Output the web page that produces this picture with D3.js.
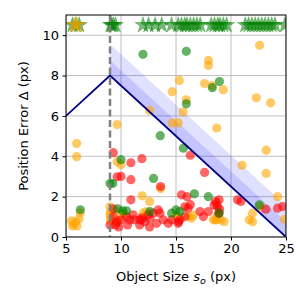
<!DOCTYPE html>
<html><head><meta charset="utf-8">
<script src="https://cdn.jsdelivr.net/npm/d3@7"></script>
<style>body{margin:0;background:#fff}svg{display:block}text{font-family:"DejaVu Sans",sans-serif}</style>
</head><body>
<script>
const xTicks = [5, 10, 15, 20, 25];
const yTicks = [0, 2, 4, 6, 8, 10];
const boundX = [5, 9, 25];
const boundY = [6, 8, 0];
const cutoffX = 9;
const bandInner = 0.75;
const bandOuter = 1.55;
const orangePts = [[5.5,0.8],[5.7,0.65],[5.9,0.75],[6.0,0.55],[5.6,0.55],[6.2,0.9],[6.3,1.2],[5.97,4.63],[5.97,3.98],
[9.65,5.57],[9.65,3.73],[10.0,3.58],[9.0,1.5],[9.05,1.25],[9.0,1.1],[9.05,0.95],[9.05,0.8],[9.95,1.15],[10.25,1.15],[9.75,0.8],
[11.93,2.04],[12.6,1.76],[12.0,1.18],[12.3,1.26],[13.6,2.4],[12.6,6.27],[14.66,5.65],[15.2,5.65],[14.66,7.2],[15.3,7.76],[15.94,6.8],[15.65,6.2],[17.95,8.75],[17.95,8.5],[17.6,7.6],[18.3,7.5],[19.3,7.3],[22.6,9.5],[22.3,6.9],[23.6,6.65],[18.7,5.4],[23.2,4.3],[21.0,3.55],[23.2,3.15],[24.24,2.0],
[16.12,1.01],[16.42,0.93],[16.58,1.09],[15.05,1.01],[18.4,0.85],[18.7,0.85],[18.6,0.85],[19.07,0.85],[19.38,0.76],[18.77,1.09],[21.96,1.18],[21.66,0.85],[21.96,0.76],[22.7,1.51],[24.85,0.88],[18.7,1.68],[15.2,1.0]];
const redPts = [[9.3,4.18],[10.9,3.68],[11.9,3.88],[9.65,2.98],[10.0,3.0],[10.9,2.84],[13.6,2.5],[10.9,1.84],[16.3,4.05],[17.6,3.2],
[9.3,1.4],[9.3,1.0],[9.6,0.75],[9.8,0.5],[9.5,0.6],[9.0,0.6],[10.0,0.85],[10.5,1.0],[10.8,0.85],[11.1,1.1],[11.2,0.85],[11.7,0.85],[11.9,0.95],[11.7,0.6],[12.6,0.5],[10.6,0.6],
[13.39,1.34],[13.54,1.18],[12.93,1.18],[12.47,1.1],[11.86,0.85],[12.17,0.76],[12.63,0.93],[13.23,0.68],[14.3,0.68],[15.2,0.68],[15.36,0.85],[15.82,1.01],[17.19,1.26],[17.94,1.26],[17.49,1.01],[13.84,0.85],[14.6,0.85],
[15.5,2.09],[16.0,2.0],[15.8,1.5],[16.1,1.43],[16.3,1.6],[18.6,1.76],[18.92,1.84],[18.77,1.51],[18.46,1.59],[20.59,1.84],[20.9,1.76],[23.17,1.38],[24.23,1.43],[24.7,1.51],[18.97,1.38],[18.9,1.18],[15.24,0.76]];
const greenPts = [[12.0,9.05],[15.94,9.2],[18.95,7.7],[18.3,7.4],[15.94,6.6],[13.57,5.02],[15.67,4.4],[10.0,3.83],[12.96,2.9],[9.0,2.65],[9.25,2.65],[6.3,1.35],[9.7,1.4],[10.15,1.3],[10.5,1.3],[12.63,1.26],[14.6,1.18],[15.36,1.26],[16.67,2.14],[17.94,2.0],[18.92,1.18],[22.57,1.59],[15.0,1.34]];
const starY = 10.5;
const orangeStars = [5.8, 6.0];
const greenStars = [5.6, 5.9, 6.2, 9.05, 9.15, 9.3, 9.5, 12.0, 12.5, 13.1, 13.7, 14.6, 15.2, 15.5, 15.8, 16.0, 16.3, 16.6, 16.9, 17.2, 18.2, 18.5, 18.8, 19.0, 19.3, 19.6, 21.3, 21.6, 21.9, 22.2, 22.5, 22.8, 23.1, 23.4, 23.7, 24.0, 24.9];

const W = 300, H = 300, L = 66, R = 286, T = 15, B = 237;
const svg = d3.select("body").append("svg").attr("width", W).attr("height", H);
const x = d3.scaleLinear().domain([5, 25]).range([L, R]);
const y = d3.scaleLinear().domain([0, 11]).range([B, T]);

svg.append("clipPath").attr("id", "clip").append("rect").attr("x", L).attr("y", T).attr("width", R - L).attr("height", B - T);
const g = svg.append("g").attr("clip-path", "url(#clip)");

// grid
g.selectAll(".gx").data(xTicks).join("line").attr("x1", d => x(d)).attr("x2", d => x(d)).attr("y1", T).attr("y2", B)
  .attr("stroke", "#b0b0b0").attr("stroke-width", 0.8);
g.selectAll(".gy").data(yTicks).join("line").attr("y1", d => y(d)).attr("y2", d => y(d)).attr("x1", L).attr("x2", R)
  .attr("stroke", "#b0b0b0").attr("stroke-width", 0.8);

// bands
const lineFn = xv => xv <= boundX[1] ? boundY[0] + (boundY[1]-boundY[0])*(xv-boundX[0])/(boundX[1]-boundX[0])
  : boundY[1] + (boundY[2]-boundY[1])*(xv-boundX[1])/(boundX[2]-boundX[1]);
const bandXs = [cutoffX, boundX[2]];
[bandOuter, bandInner].forEach(off => {
  g.append("path").datum(bandXs)
    .attr("d", d3.area().x(d => x(d)).y0(d => y(lineFn(d))).y1(d => y(lineFn(d) + off)))
    .attr("fill", "#0000ff").attr("fill-opacity", 0.12);
});

// points
const dots = (pts, col) => g.append("g").selectAll("circle").data(pts).join("circle")
  .attr("cx", d => x(d[0])).attr("cy", d => y(d[1])).attr("r", 4.6).attr("fill", col).attr("fill-opacity", 0.6);
dots(orangePts, "#ffa500");
dots(redPts, "#ff0000");
dots(greenPts, "#008000");

// stars
const star = d3.symbol().type(d3.symbolStar).size(80);
const stars = (xs, col) => g.append("g").selectAll("path").data(xs).join("path")
  .attr("d", star).attr("transform", d => `translate(${x(d)},${y(starY)})`)
  .attr("fill", col).attr("fill-opacity", 0.55).attr("stroke", col).attr("stroke-opacity", 0.55).attr("stroke-width", 0.5);
stars(greenStars, "#008000");
stars(orangeStars, "#ffa500");

// dashed cutoff
g.append("line").attr("x1", x(cutoffX)).attr("x2", x(cutoffX)).attr("y1", T).attr("y2", B)
  .attr("stroke", "#808080").attr("stroke-width", 2.5).attr("stroke-dasharray", "7,3.5");

// boundary line
g.append("path").datum(boundX.map((d, i) => [d, boundY[i]]))
  .attr("d", d3.line().x(d => x(d[0])).y(d => y(d[1])))
  .attr("fill", "none").attr("stroke", "#000080").attr("stroke-width", 1.8);

// frame
svg.append("rect").attr("x", L).attr("y", T).attr("width", R - L).attr("height", B - T)
  .attr("fill", "none").attr("stroke", "#000").attr("stroke-width", 1);

// axes
const xa = svg.append("g").attr("transform", `translate(0,${B})`)
  .call(d3.axisBottom(x).tickValues(xTicks).tickSize(3.5).tickPadding(3.5).tickFormat(d3.format("d")));
const ya = svg.append("g").attr("transform", `translate(${L},0)`)
  .call(d3.axisLeft(y).tickValues(yTicks).tickSize(3.5).tickPadding(3.5).tickFormat(d3.format("d")));
[xa, ya].forEach(a => {
  a.select(".domain").remove();
  a.selectAll("text").attr("font-size", 13).attr("fill", "#000").attr("font-family", "DejaVu Sans");
  a.selectAll("line").attr("stroke", "#000");
});

// labels
const xl = svg.append("text").attr("x", (L + R) / 2).attr("y", 281).attr("text-anchor", "middle").attr("font-size", 13);
xl.append("tspan").text("Object Size ");
xl.append("tspan").attr("font-style", "italic").text("s");
xl.append("tspan").attr("font-style", "italic").attr("font-size", 9.5).attr("dy", 3).text("o");
xl.append("tspan").attr("dy", -3).text(" (px)");
svg.append("text").attr("transform", `translate(28,${(T + B) / 2}) rotate(-90)`).attr("text-anchor", "middle")
  .attr("font-size", 13).text("Position Error Δ (px)");
</script>
</body></html>
